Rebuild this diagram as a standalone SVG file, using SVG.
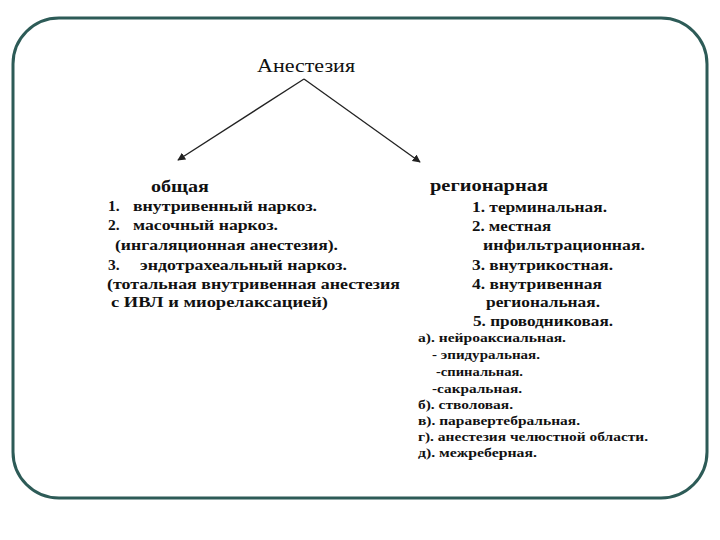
<svg xmlns="http://www.w3.org/2000/svg" width="720" height="540" viewBox="0 0 720 540">
<style>
.t{font-size:19px}
.h{font-size:17px;font-weight:bold}
.b{font-size:15.5px;font-weight:bold}
.s{font-size:13.5px;font-weight:bold}
.c{stroke:#222;stroke-width:1.3;fill:none}
</style>
<defs>
<marker id="ah" viewBox="0 0 10 10" refX="9" refY="5" markerWidth="8" markerHeight="8" orient="auto" markerUnits="userSpaceOnUse">
<path d="M0,0 L10,5 L0,10 z" fill="#222"/>
</marker>
</defs>
<rect width="720" height="540" fill="#fff"/>
<rect x="13" y="18" width="694" height="480" rx="46" ry="46" fill="none" stroke="#2d5b57" stroke-width="3"/>
<g font-family="'Liberation Serif', 'DejaVu Serif', serif" fill="#111">
<g id="root"><text class="t" x="257" y="72" textLength="98" lengthAdjust="spacingAndGlyphs">Анестезия</text></g>
<g id="general">
<text class="h" x="151" y="192" textLength="58" lengthAdjust="spacingAndGlyphs">общая</text>
<text class="b" y="211"><tspan x="108">1.</tspan><tspan x="133" textLength="184" lengthAdjust="spacingAndGlyphs">внутривенный наркоз.</tspan></text>
<text class="b" y="230"><tspan x="108">2.</tspan><tspan x="133" textLength="145" lengthAdjust="spacingAndGlyphs">масочный наркоз.</tspan></text>
<text class="b" x="115" y="250" textLength="223" lengthAdjust="spacingAndGlyphs">(ингаляционная анестезия).</text>
<text class="b" y="270"><tspan x="108">3.</tspan><tspan x="140" textLength="207" lengthAdjust="spacingAndGlyphs">эндотрахеальный наркоз.</tspan></text>
<text class="b" x="107" y="289" textLength="293" lengthAdjust="spacingAndGlyphs">(тотальная внутривенная анестезия</text>
<text class="b" x="111" y="307" textLength="217" lengthAdjust="spacingAndGlyphs">с ИВЛ  и миорелаксацией)</text>
</g>
<g id="regional">
<text class="h" x="430" y="191" textLength="118" lengthAdjust="spacingAndGlyphs">регионарная</text>
<text class="b" x="472" y="212" textLength="135" lengthAdjust="spacingAndGlyphs">1. терминальная.</text>
<text class="b" x="472" y="231" textLength="79" lengthAdjust="spacingAndGlyphs">2. местная</text>
<text class="b" x="483" y="250" textLength="162" lengthAdjust="spacingAndGlyphs">инфильтрационная.</text>
<text class="b" x="472" y="270" textLength="141" lengthAdjust="spacingAndGlyphs">3. внутрикостная.</text>
<text class="b" x="472" y="289" textLength="130" lengthAdjust="spacingAndGlyphs">4. внутривенная</text>
<text class="b" x="486" y="307" textLength="114" lengthAdjust="spacingAndGlyphs">региональная.</text>
<text class="b" x="473" y="326" textLength="140" lengthAdjust="spacingAndGlyphs">5. проводниковая.</text>
<text class="s" x="418" y="342" textLength="148" lengthAdjust="spacingAndGlyphs">а). нейроаксиальная.</text>
<text class="s" x="432" y="359" textLength="108" lengthAdjust="spacingAndGlyphs">- эпидуральная.</text>
<text class="s" x="436" y="376" textLength="87" lengthAdjust="spacingAndGlyphs">-спинальная.</text>
<text class="s" x="432" y="393" textLength="90" lengthAdjust="spacingAndGlyphs">-сакральная.</text>
<text class="s" x="418" y="409" textLength="95" lengthAdjust="spacingAndGlyphs">б). стволовая.</text>
<text class="s" x="418" y="425" textLength="162" lengthAdjust="spacingAndGlyphs">в). паравертебральная.</text>
<text class="s" x="418" y="441" textLength="230" lengthAdjust="spacingAndGlyphs">г). анестезия челюстной области.</text>
<text class="s" x="418" y="457" textLength="119" lengthAdjust="spacingAndGlyphs">д). межреберная.</text>
</g>
</g>
<g id="connectors">
<line class="c" x1="304" y1="79" x2="178" y2="160" marker-end="url(#ah)"/>
<line class="c" x1="304" y1="79" x2="420" y2="162" marker-end="url(#ah)"/>
</g>
</svg>
